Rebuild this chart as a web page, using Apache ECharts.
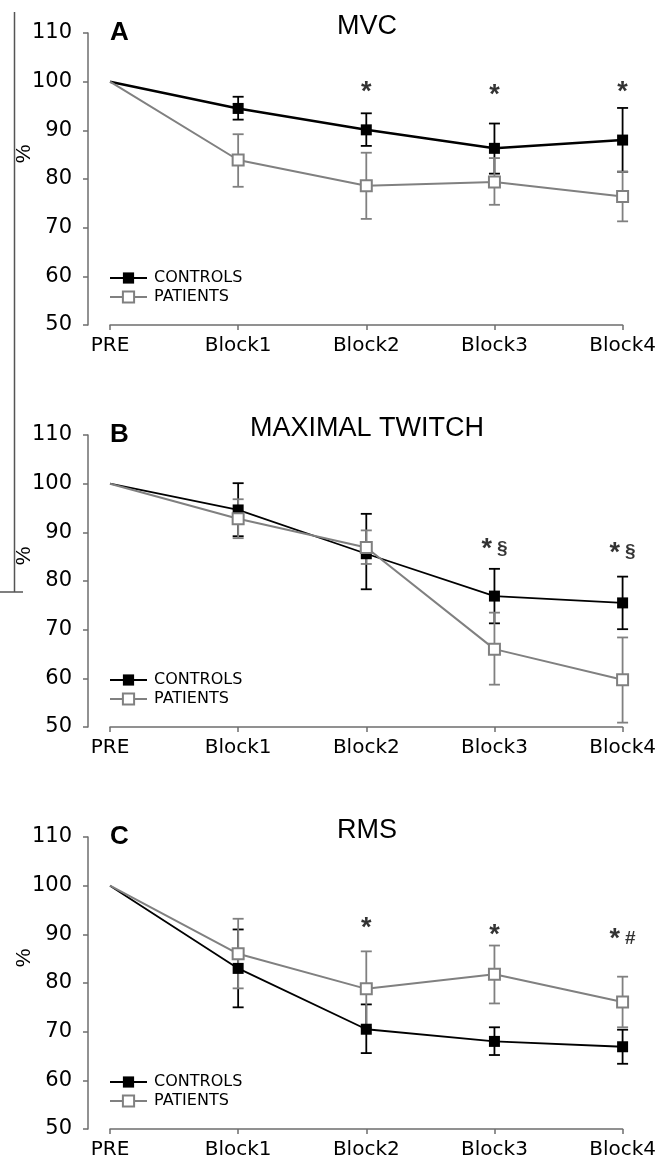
<!DOCTYPE html>
<html>
<head>
<meta charset="utf-8">
<script src="https://cdn.jsdelivr.net/npm/echarts@6/dist/echarts.min.js"></script>
<style>
  html, body { margin: 0; padding: 0; background: #fff; }
  #chart { width: 659px; height: 1172px; }
</style>
</head>
<body>
<div id="chart"></div>
<script>
// x categories, shared by all three panels
var categories = ['PRE', 'Block1', 'Block2', 'Block3', 'Block4'];
var seriesNames = ['CONTROLS', 'PATIENTS'];

// A - MVC (% of PRE), means and error bar ends
var mvcControls = [100, 94.5, 90.1, 86.3, 88.0];
var mvcControlsLow = [null, 92.2, 86.8, 81.1, 81.5];
var mvcControlsHigh = [null, 96.9, 93.5, 91.4, 94.6];
var mvcPatients = [100, 83.9, 78.6, 79.4, 76.4];
var mvcPatientsLow = [null, 78.4, 71.8, 74.7, 71.3];
var mvcPatientsHigh = [null, 89.2, 85.4, 84.3, 81.5];
var mvcMarks = ['', '', '*', '*', '*'];
var mvcMarkY = [null, null, 98.9, 98.3, 98.9];

// B - MAXIMAL TWITCH
var twitchControls = [100, 94.6, 85.6, 76.9, 75.5];
var twitchControlsLow = [null, 89.2, 78.3, 71.3, 70.1];
var twitchControlsHigh = [null, 100.1, 93.8, 82.5, 80.9];
var twitchPatients = [100, 92.8, 86.9, 66.0, 59.7];
var twitchPatientsLow = [null, 88.8, 83.5, 58.7, 50.9];
var twitchPatientsHigh = [null, 96.8, 90.4, 73.5, 68.4];
var twitchMarks = ['', '', '', '*§', '*§'];
var twitchMarkY = [null, null, null, 87.6, 86.9];

// C - RMS
var rmsControls = [100, 83.0, 70.5, 68.0, 66.9];
var rmsControlsLow = [null, 75.0, 65.6, 65.2, 63.4];
var rmsControlsHigh = [null, 91.0, 75.6, 70.9, 70.4];
var rmsPatients = [100, 86.0, 78.8, 81.8, 76.1];
var rmsPatientsLow = [null, 78.9, 70.8, 75.8, 70.9];
var rmsPatientsHigh = [null, 93.2, 86.5, 87.7, 81.3];
var rmsMarks = ['', '', '*', '*', '*#'];
var rmsMarkY = [null, null, 92.5, 91.0, 90.1];

var yMin = 50, yMax = 110, yStep = 10;

var GRAY = '#808080';
var AXIS = '#6e6e6e';

var panels = [
  { title: 'MVC', letter: 'A', top: 33, ctrlWidth: 2.5,
    c: mvcControls, cLo: mvcControlsLow, cHi: mvcControlsHigh,
    p: mvcPatients, pLo: mvcPatientsLow, pHi: mvcPatientsHigh,
    marks: mvcMarks, markY: mvcMarkY },
  { title: 'MAXIMAL TWITCH', letter: 'B', top: 435, ctrlWidth: 1.8,
    c: twitchControls, cLo: twitchControlsLow, cHi: twitchControlsHigh,
    p: twitchPatients, pLo: twitchPatientsLow, pHi: twitchPatientsHigh,
    marks: twitchMarks, markY: twitchMarkY },
  { title: 'RMS', letter: 'C', top: 837, ctrlWidth: 1.8,
    c: rmsControls, cLo: rmsControlsLow, cHi: rmsControlsHigh,
    p: rmsPatients, pLo: rmsPatientsLow, pHi: rmsPatientsHigh,
    marks: rmsMarks, markY: rmsMarkY }
];

function barData(lo, hi) {
  var out = [];
  for (var i = 0; i < lo.length; i++) {
    if (lo[i] != null) out.push([i, lo[i], hi[i]]);
  }
  return out;
}

function lineData(vals) {
  // the PRE point is the 100% reference, drawn without a marker
  return vals.map(function (v, i) {
    return i === 0 ? { value: v, symbol: 'none' } : v;
  });
}

function errorBar(color, width) {
  return function (params, api) {
    var x = api.value(0);
    var lo = api.coord([x, api.value(1)]);
    var hi = api.coord([x, api.value(2)]);
    var half = 5.5;
    var style = { stroke: color, lineWidth: width, fill: null };
    return {
      type: 'group',
      children: [
        { type: 'line', shape: { x1: lo[0], y1: lo[1], x2: hi[0], y2: hi[1] }, style: style },
        { type: 'line', shape: { x1: lo[0] - half, y1: lo[1], x2: lo[0] + half, y2: lo[1] }, style: style },
        { type: 'line', shape: { x1: hi[0] - half, y1: hi[1], x2: hi[0] + half, y2: hi[1] }, style: style }
      ]
    };
  };
}

var grid = [], xAxis = [], yAxis = [], series = [], legend = [], graphic = [];

panels.forEach(function (pn, i) {
  grid.push({ left: 110, width: 513, top: pn.top, height: 292 });

  xAxis.push({
    gridIndex: i, type: 'category', data: categories, boundaryGap: false,
    axisLine: { lineStyle: { color: AXIS, width: 1.5 } },
    axisTick: { length: 5, lineStyle: { color: AXIS, width: 1.5 } },
    axisLabel: { fontFamily: 'DejaVu Sans', fontSize: 20, color: '#000', margin: 11 },
    splitLine: { show: false }
  });

  yAxis.push({
    gridIndex: i, type: 'value', min: yMin, max: yMax, interval: yStep, offset: 22,
    axisLine: { show: true, lineStyle: { color: AXIS, width: 1.5 } },
    axisTick: { show: true, length: 5, lineStyle: { color: AXIS, width: 1.5 } },
    axisLabel: { fontFamily: 'DejaVu Sans', fontSize: 21, color: '#000', margin: 16 },
    splitLine: { show: false }
  });

  series.push({
    type: 'custom', xAxisIndex: i, yAxisIndex: i, z: 2,
    renderItem: errorBar('#000', 1.8),
    encode: { x: 0, y: [1, 2] },
    data: barData(pn.cLo, pn.cHi)
  });
  series.push({
    type: 'custom', xAxisIndex: i, yAxisIndex: i, z: 2,
    renderItem: errorBar(GRAY, 1.8),
    encode: { x: 0, y: [1, 2] },
    data: barData(pn.pLo, pn.pHi)
  });

  series.push({
    name: seriesNames[0], type: 'line', xAxisIndex: i, yAxisIndex: i, z: 3,
    data: lineData(pn.c),
    symbol: 'rect', symbolSize: 11, showAllSymbol: true,
    itemStyle: { color: '#000' },
    lineStyle: { color: '#000', width: pn.ctrlWidth },
    emphasis: { disabled: true }
  });
  series.push({
    name: seriesNames[1], type: 'line', xAxisIndex: i, yAxisIndex: i, z: 4,
    data: lineData(pn.p),
    symbol: 'rect', symbolSize: 11, showAllSymbol: true,
    itemStyle: { color: '#fff', borderColor: GRAY, borderWidth: 2 },
    lineStyle: { color: GRAY, width: 2 },
    emphasis: { disabled: true }
  });

  var marks = [];
  pn.marks.forEach(function (m, k) {
    if (m) marks.push([k, pn.markY[k], m]);
  });
  series.push({
    type: 'scatter', xAxisIndex: i, yAxisIndex: i, z: 5,
    symbolSize: 0, silent: true,
    data: marks,
    label: {
      show: true, position: 'inside', offset: [0, 6],
      formatter: function (p) {
        var t = p.data[2];
        var s = '{a|' + t.charAt(0) + '}';
        if (t.length > 1) s += '{b|' + t.slice(1) + '}';
        return s;
      },
      rich: {
        a: { fontFamily: 'Liberation Sans', fontSize: 27, fontWeight: 'bold', color: '#000' },
        b: { fontFamily: 'Liberation Sans', fontSize: 19, fontWeight: 'bold', color: '#000', padding: [0, 0, 3, 5] }
      }
    }
  });

  legend.push({
    data: seriesNames, orient: 'vertical', left: 104, top: pn.top + 232,
    itemWidth: 37, itemHeight: 14, itemGap: 3, selectedMode: false,
    textStyle: { fontFamily: 'DejaVu Sans', fontSize: 16, color: '#000', padding: [0, 0, 0, 2] }
  });

  graphic.push({
    type: 'text', x: 367, y: pn.top - 6,
    style: { text: pn.title, font: '27px "Liberation Sans"', fill: '#000', textAlign: 'center', textVerticalAlign: 'middle' }
  });
  graphic.push({
    type: 'text', x: 110, y: pn.top,
    style: { text: pn.letter, font: 'bold 26px "Liberation Sans"', fill: '#000', textAlign: 'left', textVerticalAlign: 'middle' }
  });
  graphic.push({
    type: 'text', x: 24, y: pn.top + 121, rotation: Math.PI / 2,
    style: { text: '%', font: '21px "Liberation Sans"', fill: '#000', textAlign: 'center', textVerticalAlign: 'middle' }
  });
});

// thin bracket line on the left edge of the figure
graphic.push({ type: 'line', shape: { x1: 14.5, y1: 12, x2: 14.5, y2: 592 }, style: { stroke: '#555', lineWidth: 1.5 } });
graphic.push({ type: 'line', shape: { x1: 0, y1: 592, x2: 23, y2: 592 }, style: { stroke: '#555', lineWidth: 1.5 } });

var chart = echarts.init(document.getElementById('chart'));
chart.setOption({
  animation: false,
  backgroundColor: '#fff',
  grid: grid,
  xAxis: xAxis,
  yAxis: yAxis,
  legend: legend,
  graphic: graphic,
  series: series
});
</script>
</body>
</html>
